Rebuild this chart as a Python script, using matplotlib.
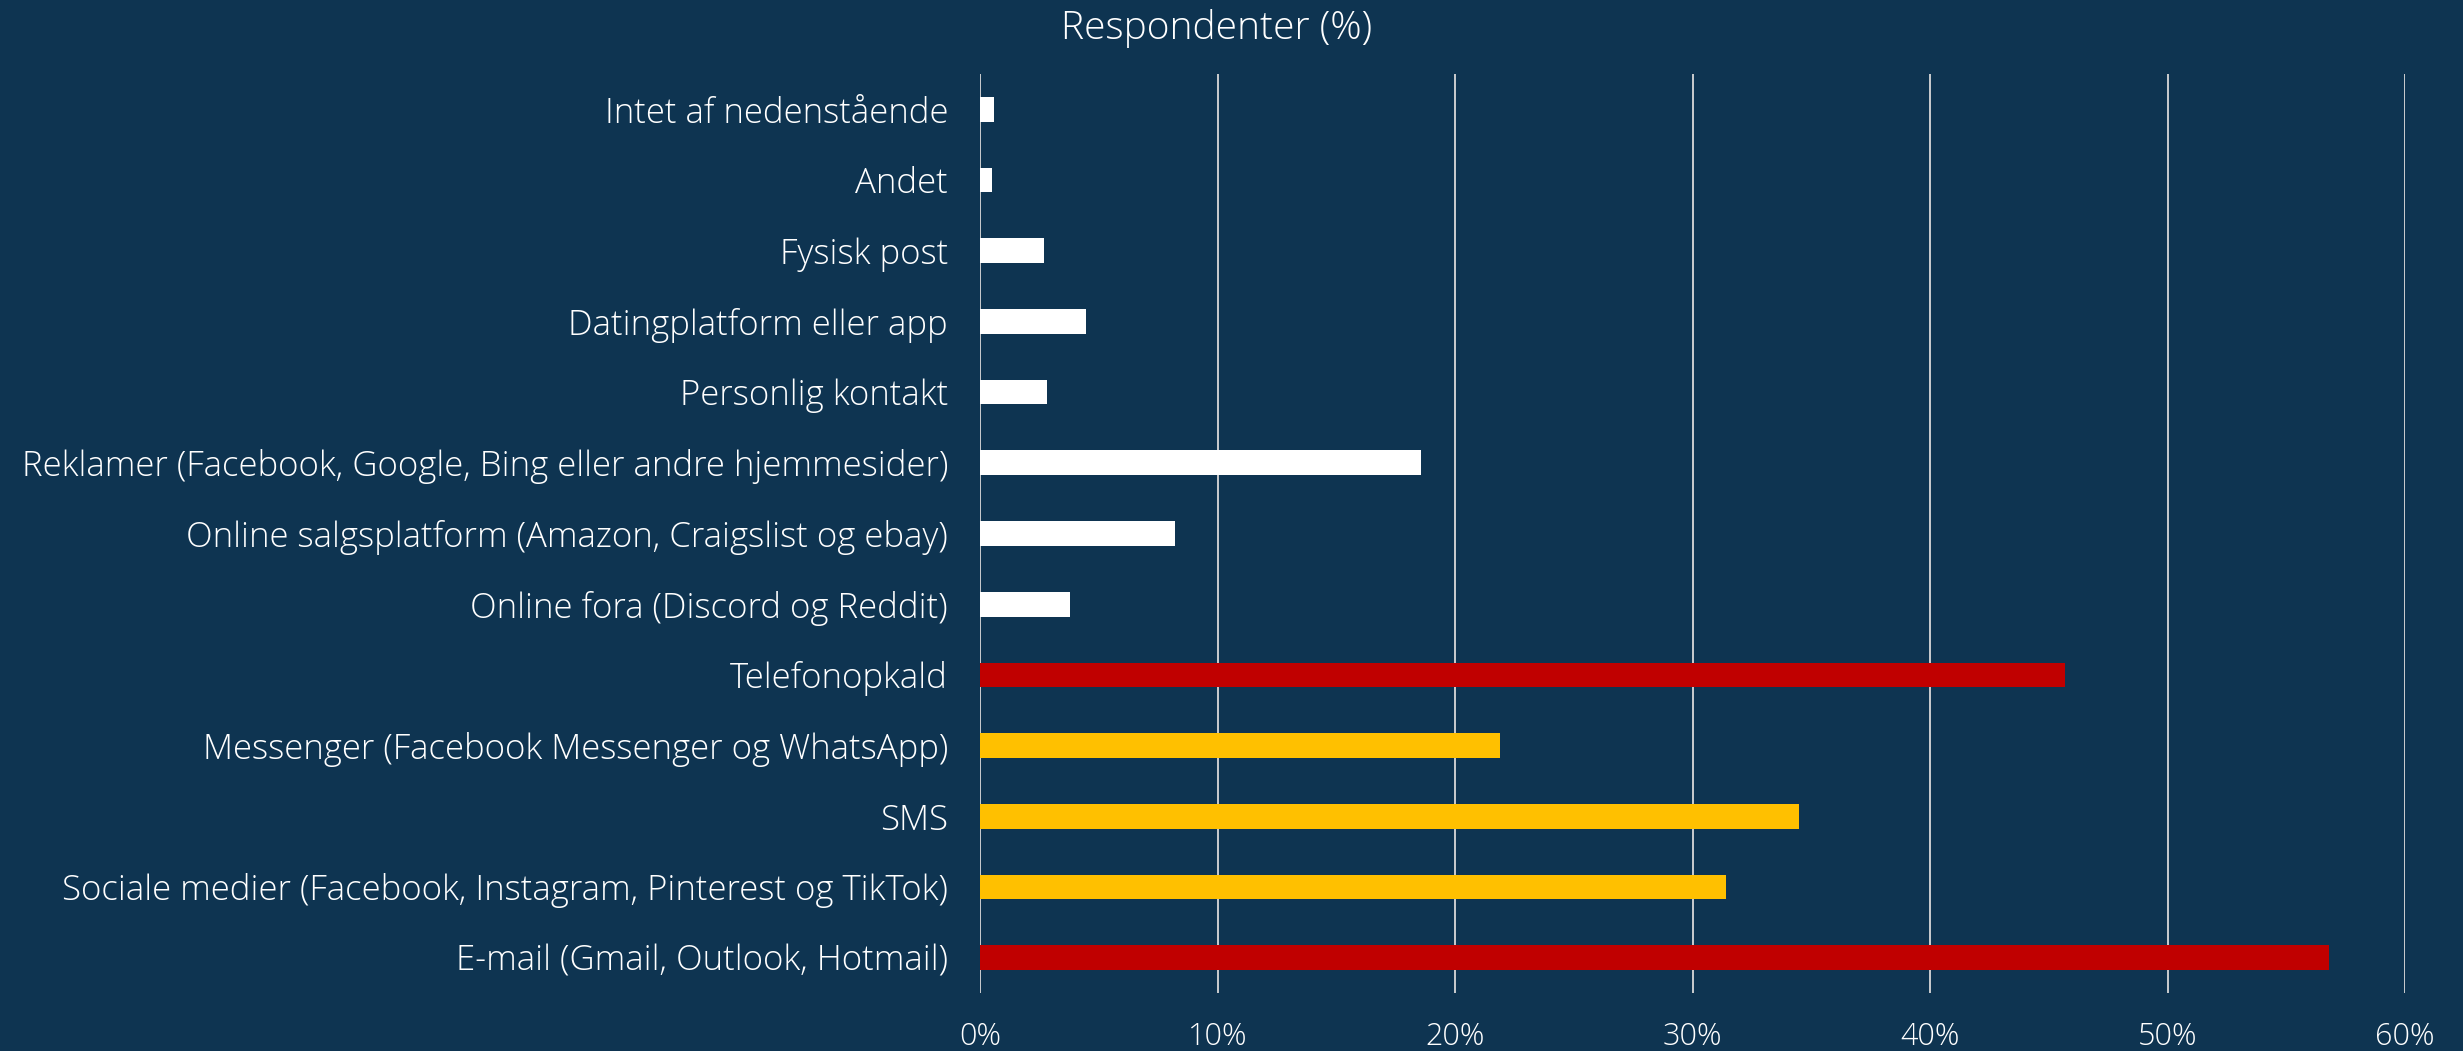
import numpy as np
import matplotlib
matplotlib.use("agg")
import matplotlib.pyplot as plt
from matplotlib.ticker import PercentFormatter

# categories from bottom to top
categories = [
    "E-mail (Gmail, Outlook, Hotmail)",
    "Sociale medier (Facebook, Instagram, Pinterest og TikTok)",
    "SMS",
    "Messenger (Facebook Messenger og WhatsApp)",
    "Telefonopkald",
    "Online fora (Discord og Reddit)",
    "Online salgsplatform (Amazon, Craigslist og ebay)",
    "Reklamer (Facebook, Google, Bing eller andre hjemmesider)",
    "Personlig kontakt",
    "Datingplatform eller app",
    "Fysisk post",
    "Andet",
    "Intet af nedenstående",
]
values = [56.8, 31.4, 34.5, 21.9, 45.7, 3.8, 8.2, 18.55, 2.8, 4.45, 2.7, 0.5, 0.6]
groups = ["top", "mid", "mid", "mid", "top", "low", "low", "low", "low", "low", "low", "low", "low"]

BG = "#0E3451"
group_colors = {"top": "#C00000", "mid": "#FFC000", "low": "#FFFFFF"}

plt.rcParams['font.family'] = ['Open Sans', 'DejaVu Sans']
plt.rcParams['font.weight'] = 'light'

fig = plt.figure(figsize=(24.63, 10.51), dpi=100, facecolor=BG)
ax = fig.add_axes([0.3979, 0.0552, 0.5786, 0.8744], facecolor=BG)

y = np.arange(len(categories))
colors = [group_colors[g] for g in groups]
ax.barh(y, np.array(values) / 100, height=0.35, color=colors, zorder=3)

ax.set_xlim(0, 0.6)
ax.set_ylim(-0.5, len(categories) - 0.5)
ax.set_xticks(np.arange(0, 0.61, 0.1))
ax.xaxis.set_major_formatter(PercentFormatter(1.0, decimals=0))
ax.set_yticks(y)
ax.set_yticklabels(categories)

ax.grid(axis="x", color="#D9D9D9", linewidth=1.3, zorder=0)
for s in ax.spines.values():
    s.set_visible(False)
ax.tick_params(axis="both", length=0, colors="white")
ax.tick_params(axis="y", pad=23, labelsize=25)
ax.tick_params(axis="x", pad=20, labelsize=22)

fig.text(0.494, 0.973, "Respondenter (%)", color="white", fontsize=28,
         ha="center", va="center")

fig.savefig("out.png", dpi=100, facecolor=BG)
